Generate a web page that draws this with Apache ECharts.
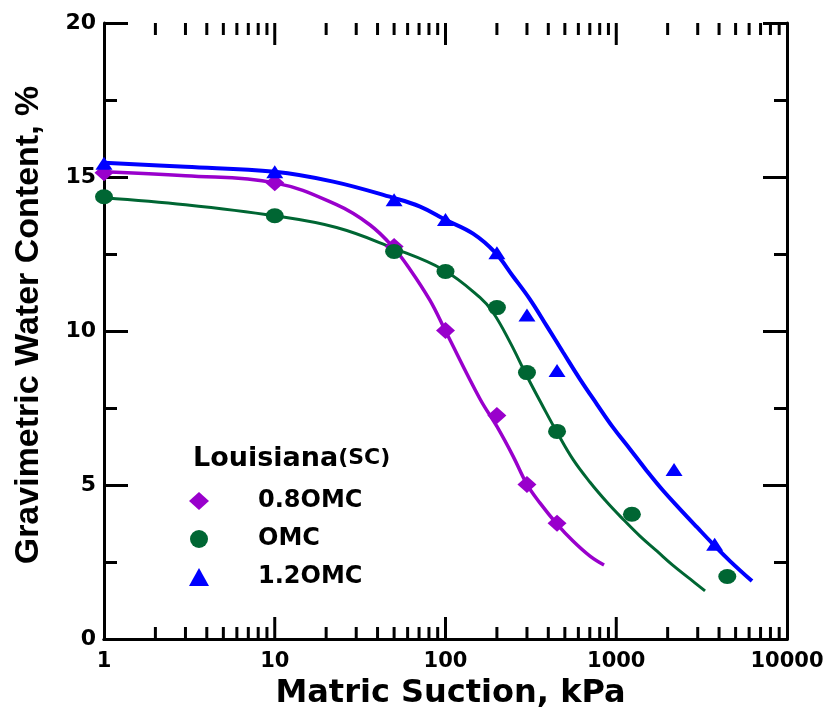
<!DOCTYPE html>
<html>
<head>
<meta charset="utf-8">
<title>Louisiana(SC) SWCC</title>
<script src="https://cdn.jsdelivr.net/npm/echarts@6/dist/echarts.min.js"></script>
<style>
  html, body { margin: 0; padding: 0; background: #fff; }
  #chart { width: 833px; height: 715px; }
</style>
</head>
<body>
<div id="chart"></div>
<script>
// measured points [suction kPa, water content %]
const pts08 = [[1, 15.14], [10, 14.81], [50, 12.74], [100, 10.02], [200, 7.26], [300, 5.02], [450, 3.76]];
const ptsOmc = [[1, 14.36], [10, 13.74], [50, 12.58], [100, 11.93], [200, 10.76], [300, 8.65], [450, 6.74], [1235, 4.05], [4470, 2.03]];
const pts12 = [[1, 15.45], [10, 15.17], [50, 14.26], [100, 13.62], [200, 12.54], [300, 10.52], [450, 8.72], [2180, 5.5], [3770, 3.08]];

// fitted curves
const fit08 = [[1, 15.17], [3, 15.04], [10, 14.81], [23, 14.1], [36, 13.45], [49, 12.74], [62, 12.0], [81, 11.0],
  [100, 10.0], [159, 7.8], [200, 6.9], [249, 5.93], [300, 5.02], [357, 4.42], [450, 3.73], [558, 3.18], [702, 2.69], [848, 2.4]];
const fitOmc = [[1, 14.33], [3, 14.1], [10, 13.74], [23, 13.36], [49, 12.7], [97, 11.99], [159, 11.09], [190, 10.6],
  [239, 9.63], [300, 8.53], [372, 7.55], [450, 6.71], [558, 5.83], [702, 5.09], [883, 4.44], [1096, 3.89], [1377, 3.34],
  [1733, 2.85], [2149, 2.39], [2704, 1.95], [3311, 1.56]];
const fit12 = [[1, 15.46], [3, 15.33], [10, 15.17], [22, 14.85], [49, 14.33], [71, 14.04], [100, 13.61], [145, 13.16],
  [195, 12.55], [249, 11.77], [313, 11.02], [393, 10.15], [488, 9.31], [614, 8.43], [771, 7.62], [957, 6.87], [1205, 6.16],
  [1514, 5.45], [1879, 4.82], [2361, 4.22], [2971, 3.63], [3690, 3.08], [4637, 2.53], [6237, 1.88]];

// x tick positions on the log axis
const majorX = [10, 100, 1000];
const minorX = [2, 3, 4, 5, 6, 7, 8, 9, 20, 30, 40, 50, 60, 70, 80, 90,
  200, 300, 400, 500, 600, 700, 800, 900, 2000, 3000, 4000, 5000, 6000, 7000, 8000, 9000];

const names = ['0.8OMC', 'OMC', '1.2OMC'];
const colors = ['#9900cc', '#006633', '#0000ff'];

const FONT = 'DejaVu Sans';

const chart = echarts.init(document.getElementById('chart'));

function xAx(pos, showLabel) {
  return {
    type: 'log',
    logBase: 10,
    min: 1,
    max: 10000,
    position: pos,
    axisLine: { show: true, lineStyle: { color: '#000', width: 3 } },
    axisTick: { show: false },
    splitLine: { show: false },
    axisLabel: {
      show: showLabel,
      margin: 12,
      color: '#000',
      fontFamily: FONT,
      fontWeight: 'bold',
      fontSize: 21,
      formatter: function (v) { return String(Math.round(v)); }
    },
    name: showLabel ? 'Matric Suction, kPa' : '',
    nameLocation: 'middle',
    nameGap: 39,
    nameTextStyle: { color: '#000', fontFamily: FONT, fontWeight: 'bold', fontSize: 32, padding: [0, 0, 0, 10] }
  };
}

function yAx(pos, showLabel) {
  return {
    type: 'value',
    min: 0,
    max: 20,
    interval: 5,
    position: pos,
    axisLine: { show: true, lineStyle: { color: '#000', width: 3 } },
    axisTick: { show: true, inside: true, length: 24, lineStyle: { color: '#000', width: 3 } },
    minorTick: { show: true, splitNumber: 2, length: 13, lineStyle: { color: '#000', width: 3 } },
    splitLine: { show: false },
    axisLabel: {
      show: showLabel,
      margin: 8,
      color: '#000',
      fontFamily: FONT,
      fontWeight: 'bold',
      fontSize: 22
    },
    name: showLabel ? 'Gravimetric Water Content, %' : '',
    nameLocation: 'middle',
    nameGap: 58,
    nameTextStyle: { color: '#000', fontFamily: 'Liberation Sans', fontWeight: 'bold', fontSize: 34, padding: [0, 0, 0, 12] }
  };
}

// tick marks for the log x axes, placed through the axis scale
function tickSeries(vals, yVal, len) {
  return {
    type: 'scatter',
    silent: true,
    clip: false,
    symbol: 'rect',
    symbolSize: [3, len],
    symbolOffset: [0, yVal === 0 ? -len / 2 : len / 2],
    itemStyle: { color: '#000', opacity: 1 },
    data: vals.map(function (v) { return [v, yVal]; }),
    z: 5
  };
}

const series = [];
[fit08, fitOmc, fit12].forEach(function (d, i) {
  series.push({
    name: 'fit ' + names[i],
    type: 'line',
    smooth: 0.4,
    showSymbol: false,
    data: d,
    lineStyle: { color: colors[i], width: [3.5, 3, 4][i] },
    z: 2
  });
});
const symbols = ['diamond', 'circle', 'triangle'];
const sizes = [[19, 17], [18, 15], [17, 13]];
[pts08, ptsOmc, pts12].forEach(function (d, i) {
  series.push({
    name: names[i],
    type: 'scatter',
    symbol: symbols[i],
    symbolSize: sizes[i],
    clip: false,
    itemStyle: { color: colors[i], opacity: 1 },
    data: d,
    z: 3
  });
});
series.push(tickSeries(minorX, 0, 12));
series.push(tickSeries(minorX, 20, 12));
series.push(tickSeries(majorX, 0, 22));
series.push(tickSeries(majorX, 20, 22));

chart.setOption({
  animation: false,
  backgroundColor: '#fff',
  grid: { left: 104, right: 46, top: 23, bottom: 75 },
  title: {
    left: 188,
    top: 440,
    text: '{a|Louisiana}{b|(SC)}',
    textStyle: {
      rich: {
        a: { fontFamily: FONT, fontWeight: 'bold', fontSize: 27, color: '#000' },
        b: { fontFamily: FONT, fontWeight: 'bold', fontSize: 22, color: '#000' }
      }
    }
  },
  legend: {
    orient: 'vertical',
    left: 184,
    top: 484,
    itemWidth: 20,
    itemHeight: 18,
    itemGap: 14,
    data: names,
    textStyle: { fontFamily: FONT, fontWeight: 'bold', fontSize: 24, color: '#000', padding: [0, 0, 8, 44] }
  },
  xAxis: [xAx('bottom', true), xAx('top', false)],
  yAxis: [yAx('left', true), yAx('right', false)],
  series: series
});
</script>
</body>
</html>
